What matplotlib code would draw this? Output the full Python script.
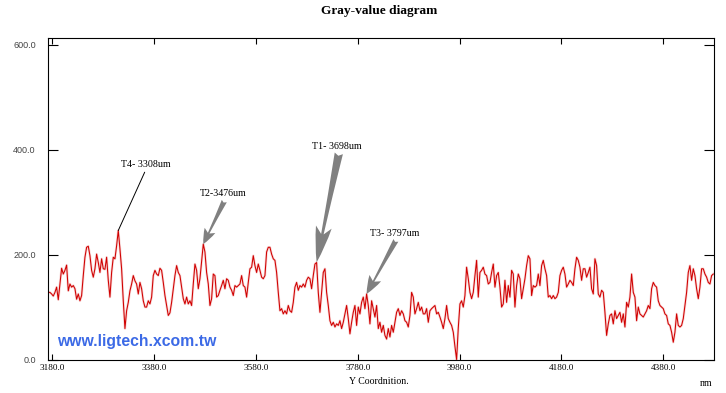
import matplotlib.pyplot as plt
import numpy as np

# gray-value profile, one sample every x_step um starting at x_start
x_start = 3172.2
x_step = 3.273
gray = np.array([
    128, 128, 125, 121, 128, 138, 114, 144, 174, 163,
    170, 180, 131, 144, 138, 141, 135, 115, 125, 112,
    122, 160, 195, 214, 216, 198, 170, 157, 173, 201,
    185, 166, 192, 173, 172, 195, 151, 119, 166, 195,
    192, 217, 246, 211, 173, 112, 59, 93, 109, 131,
    144, 160, 150, 144, 125, 147, 135, 112, 100, 100,
    112, 106, 119, 160, 170, 163, 160,
    174, 170, 147, 122, 103, 84, 89, 109, 135, 160,
    179, 166, 160, 138, 116, 106, 119, 106, 112, 103,
    144, 182, 170, 135, 154, 186, 220, 205, 166, 144,
    103, 116, 163, 160, 119, 122, 132, 141, 151, 135,
    154, 151, 138, 132, 122, 141, 138, 141, 144, 160,
    141, 138, 119, 147, 173, 176, 198, 179, 166, 182,
    170, 157, 154, 160, 205, 214,
    214, 201, 192, 189, 166, 128, 93, 97, 87, 93,
    87, 103, 93, 90, 109, 138, 147, 132, 141, 138,
    144, 138, 151, 157, 154, 135, 160, 182, 185, 128,
    90, 128, 166, 173, 128, 103, 74, 65, 71, 62,
    68, 65, 74, 59, 71, 87, 103, 78, 49, 71,
    90, 103, 65, 100, 87, 109, 119, 97, 125, 103,
    68, 112, 97, 81, 103, 59,
    71, 52, 65, 46, 39, 59, 43, 65, 52, 71,
    90, 97, 84, 93, 87, 74, 71, 62, 84, 128,
    119, 87, 97, 109, 93, 100, 87, 87, 97, 71,
    93, 97, 100, 103, 87, 90, 81, 71, 59, 78,
    103, 78, 71, 65, 52, 25, 0, 60, 106, 112,
    100, 122, 176, 154, 128, 116, 128, 160, 189, 119,
    166, 170, 176, 163, 160, 144,
    147, 166, 182, 138, 160, 166, 138, 100, 106, 151,
    109, 141, 119, 170, 163, 100, 141, 163, 154, 116,
    135, 154, 179, 198, 192, 122, 141, 138, 141, 163,
    141, 179, 189, 173, 160, 119, 122, 116, 122, 116,
    119, 128, 160, 170, 176, 163, 138, 144, 151, 147,
    141, 173, 195, 189, 176, 151, 173, 173, 157, 166,
    176, 135, 125, 192, 179, 125,
    119, 132, 128, 90, 46, 68, 84, 87, 68, 93,
    78, 84, 90, 71, 87, 62, 109, 100, 119, 163,
    128, 119, 74, 100, 87, 84, 81, 87, 93, 103,
    97, 135, 147, 141, 138, 112, 103, 100, 97, 87,
    84, 68, 65, 52, 33, 52, 87, 65, 62, 65,
    78, 103, 128, 166, 179, 151, 173, 160, 135, 116,
    138, 173, 173, 163, 157, 147, 144, 160, 163,
])
ypos = x_start + x_step * np.arange(len(gray))

x_ticks = [3180, 3380, 3580, 3780, 3980, 4180, 4380]
y_ticks = [0, 200, 400, 600]

# marked peaks: label, position (um), label location
marks = ['T4- 3308um', 'T2-3476um', 'T1- 3698um', 'T3- 3797um']
mark_pos = [3308, 3476, 3698, 3797]
mark_text = [(3364, 371), (3516, 316), (3739, 407), (3853, 241)]

fig = plt.figure(figsize=(7.26, 3.93), dpi=100)
ax = fig.add_axes([0.0665, 0.0852, 0.917, 0.8181])

ax.plot(ypos, gray, color='#f8d6d6', lw=1.8, solid_joinstyle='round')
ax.plot(ypos, gray, color='#d00000', lw=0.75)

ax.set_xlim(3172.2, 4479.6)
ax.set_ylim(0, 613)
ax.set_xticks(x_ticks)
ax.set_xticklabels([f'{v:.1f}' for v in x_ticks], family='Liberation Serif', fontsize=6.6)
ax.set_yticks(y_ticks)
ax.set_yticklabels([f'{v:.1f}' for v in y_ticks], family='Liberation Sans', fontsize=6.5, color='#444444')
ax.tick_params(axis='x', direction='in', length=4, width=0.8, top=True, pad=3)
ax.tick_params(axis='y', direction='in', length=7.5, width=0.8, right=True, pad=9)
for s in ax.spines.values():
    s.set_linewidth(0.8)

styles = [None,
          'fancy,head_length=1.1,head_width=0.85,tail_width=0.4',
          'fancy,head_length=2.6,head_width=1.15,tail_width=0.6',
          'fancy,head_length=1.3,head_width=0.95,tail_width=0.4']
for lab, p, txt, st in zip(marks, mark_pos, mark_text, styles):
    win = np.abs(ypos - p) < 6
    i = np.flatnonzero(win)[np.argmax(gray[win])]
    if st is None:
        props = dict(arrowstyle='-', color='black', lw=0.7, relpos=(0.5, 0),
                     shrinkA=0, shrinkB=0)
    else:
        props = dict(arrowstyle=st, color='#808080', lw=0, relpos=(0.55, 0),
                     shrinkA=0, shrinkB=0, mutation_scale=10)
    ax.annotate(lab, xy=(ypos[i], gray[i]), xytext=txt, ha='center', va='center',
                family='Liberation Serif', fontsize=7.2, arrowprops=props)

ax.text(0.0135, 0.055, 'www.ligtech.xcom.tw', transform=ax.transAxes,
        ha='left', va='center', family='Liberation Sans', fontweight='bold',
        fontsize=11.3, color='#3c6ae6')

fig.text(379 / 726, 1 - 11 / 393, 'Gray-value diagram', ha='center', va='center',
         family='Liberation Serif', fontweight='bold', fontsize=9.6)
fig.text(379 / 726, 1 - 382 / 393, 'Y Coordnition.', ha='center', va='center',
         family='Liberation Serif', fontsize=7.1)
fig.text(706 / 726, 1 - 384 / 393, 'nm', ha='center', va='center',
         family='Liberation Serif', fontsize=7.1)

fig.savefig('out.png', dpi=100)
